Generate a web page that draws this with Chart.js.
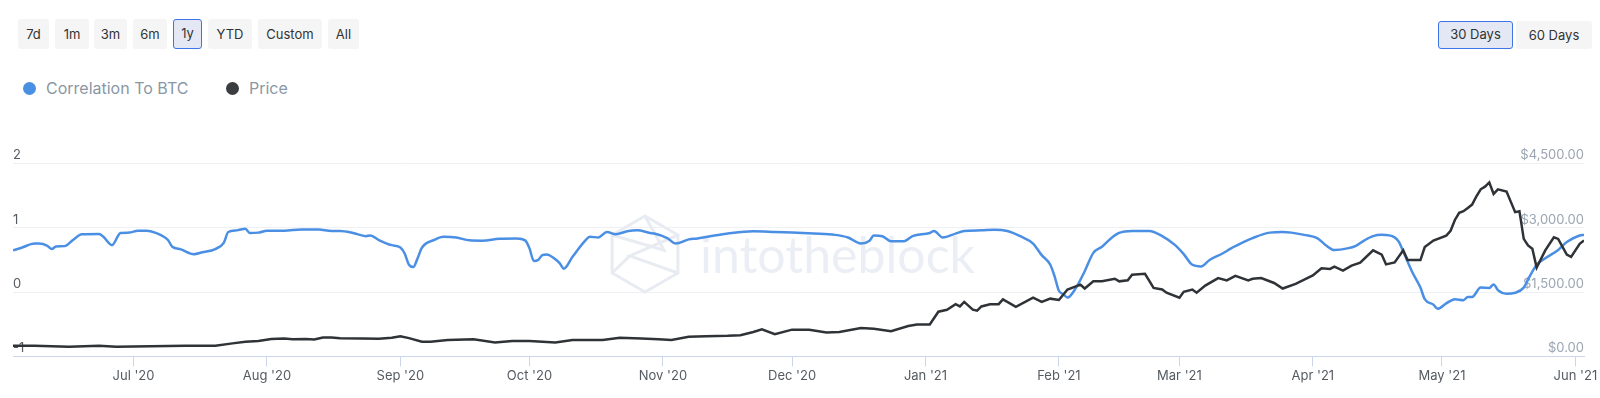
<!DOCTYPE html>
<html><head><meta charset="utf-8">
<script src="https://cdn.jsdelivr.net/npm/chart.js@4"></script>
<style>
html,body{margin:0;padding:0;background:#fff}
body{width:1600px;height:398px;overflow:hidden;position:relative;font-family:Inter,"Noto Sans",sans-serif}
.btn{position:absolute;top:19px;height:30px;line-height:30px;background:#f5f5f6;border-radius:3px;font-size:13px;color:#333;text-align:center;box-sizing:border-box}
.sel{background:#e3e8f4;border:1.5px solid #3d75e8;line-height:27px}
.leg{position:absolute;top:77px;font-size:16px;color:#8a97a5;line-height:22px}
.dot{position:absolute;width:13px;height:13px;border-radius:50%}
#wrap{position:absolute;left:0;top:140px;width:1600px;height:258px}
</style></head><body>
<div class="btn" style="left:18px;width:31px">7d</div>
<div class="btn" style="left:55px;width:34px">1m</div>
<div class="btn" style="left:94px;width:33px">3m</div>
<div class="btn" style="left:133px;width:34px">6m</div>
<div class="btn sel" style="left:173px;width:29px">1y</div>
<div class="btn" style="left:208px;width:44px">YTD</div>
<div class="btn" style="left:258px;width:64px">Custom</div>
<div class="btn" style="left:328px;width:31px">All</div>
<div class="btn sel" style="left:1438px;top:21px;height:28px;line-height:25px;width:75px">30 Days</div>
<div class="btn" style="left:1516px;top:21px;height:28px;line-height:28px;width:76px">60 Days</div>
<div class="dot" style="left:22.5px;top:81.5px;background:#4a90e2"></div>
<div class="leg" style="left:46px">Correlation To BTC</div>
<div class="dot" style="left:225.5px;top:81.5px;background:#3a3d40"></div>
<div class="leg" style="left:249px">Price</div>
<div id="wrap"><canvas id="c"></canvas></div>
<script>
const monthDays = [28,59,90,120,151,181,212,243,271,302,332,363];
const monthLabels = ["Jul '20","Aug '20","Sep '20","Oct '20","Nov '20","Dec '20","Jan '21","Feb '21","Mar '21","Apr '21","May '21","Jun '21"];

const corrDays = [0,2,5,6,8,9,10,12,14,16,20,21,23,25,27,29,31,33,36,37,39,42,44,47,49,50,52,54,55,57,59,63,67,71,74,76,79,82,83,85,88,90,91,92,93,94,95,98,100,103,106,109,113,117,119,120,121,122,123,124,126,127,128,130,133,134,136,138,140,143,145,148,149,152,154,157,159,163,167,172,177,181,186,191,194,197,199,200,202,204,207,209,213,214,216,219,221,225,228,231,234,237,239,241,242,243,244,245,247,249,251,253,255,257,260,264,267,270,272,274,276,278,281,283,286,288,292,295,297,300,303,305,307,310,312,314,316,318,321,322,323,325,327,328,330,331,333,335,337,338,339,341,343,344,345,347,349,351,352,354,356,359,361,364,365];
const corrValues = [0.65,0.69,0.755,0.755,0.72,0.67,0.71,0.715,0.815,0.90,0.905,0.86,0.73,0.92,0.925,0.955,0.955,0.925,0.81,0.705,0.665,0.59,0.62,0.67,0.77,0.935,0.96,0.985,0.92,0.925,0.955,0.955,0.975,0.975,0.95,0.95,0.92,0.87,0.88,0.81,0.73,0.695,0.60,0.425,0.39,0.525,0.69,0.815,0.86,0.85,0.805,0.80,0.83,0.835,0.805,0.68,0.485,0.50,0.575,0.585,0.51,0.45,0.365,0.55,0.805,0.86,0.85,0.935,0.90,0.95,0.96,0.92,0.91,0.84,0.755,0.82,0.835,0.88,0.92,0.945,0.935,0.925,0.91,0.89,0.85,0.755,0.80,0.88,0.87,0.79,0.79,0.87,0.92,0.95,0.85,0.91,0.95,0.96,0.97,0.95,0.87,0.755,0.575,0.425,0.245,0.02,-0.03,-0.085,0.07,0.325,0.61,0.705,0.83,0.92,0.95,0.95,0.87,0.73,0.59,0.425,0.40,0.50,0.60,0.68,0.78,0.84,0.925,0.935,0.925,0.89,0.84,0.73,0.655,0.68,0.72,0.805,0.87,0.89,0.85,0.78,0.63,0.325,0.07,-0.11,-0.195,-0.26,-0.175,-0.11,-0.125,-0.075,-0.075,0.07,0.065,0.12,0.03,-0.025,-0.01,0.07,0.195,0.425,0.525,0.655,0.78,0.88,0.89];

const priceDays = [0,5,13,20,24,32,40,47,51,54,57,60,63,65,68,70,72,74,76,81,85,88,90,92,95,97,101,107,112,116,120,126,130,137,141,146,150,153,157,161,166,169,172,174,177,181,185,189,192,197,200,204,208,210,213,215,217,219,220,221,223,224,225,227,229,230,233,237,239,241,243,245,248,249,251,253,256,257,259,260,263,265,267,268,271,272,274,275,277,280,282,284,287,288,290,293,295,298,300,302,304,306,307,309,311,313,316,318,319,321,323,324,327,328,330,333,334,335,336,337,338,339,340,341,342,343,344,345,347,349,350,351,352,353,354,356,358,359,361,362,364,365];
const priceValues = [251,251,228,251,228,235,251,251,304,343,358,404,419,400,404,395,442,442,426,419,412,434,472,426,343,343,381,400,327,358,358,327,381,381,434,419,400,381,457,472,480,495,571,632,518,624,624,556,571,662,647,586,708,746,746,1043,1089,1218,1165,1271,1089,1066,1165,1218,1218,1332,1157,1370,1271,1347,1317,1560,1675,1583,1751,1751,1812,1751,1774,1903,1926,1599,1560,1485,1370,1507,1560,1485,1652,1827,1774,1880,1774,1812,1827,1713,1583,1690,1789,1888,2056,2041,2094,2003,2117,2186,2474,2375,2147,2193,2474,2246,2246,2550,2703,2817,2931,3183,3350,3388,3464,3541,3731,3898,3959,4058,3792,3898,3845,3365,3388,2741,2589,2512,2072,2474,2779,2741,2375,2322,2627,2703];

const corrTicks = [-1,0,1,2];
const priceTicks = [0,1500,3000,4500];

const watermark = {
  id:'watermark',
  beforeDatasetsDraw(chart){
    const ctx = chart.ctx;
    ctx.save();
    ctx.strokeStyle = '#e8ecf2';
    ctx.lineWidth = 3;
    const cx = 645, cy = 114, r = 38;
    const pts = [];
    for (let i=0;i<6;i++){const a=Math.PI/6+i*Math.PI/3;pts.push([cx+r*Math.cos(a),cy+r*Math.sin(a)]);}
    ctx.beginPath();
    pts.forEach((p,i)=>i?ctx.lineTo(p[0],p[1]):ctx.moveTo(p[0],p[1]));
    ctx.closePath();ctx.stroke();
    ctx.beginPath();
    ctx.moveTo(pts[3][0],pts[3][1]);ctx.lineTo(cx+r*0.5,cy-r*0.1);ctx.lineTo(pts[4][0],pts[4][1]);
    ctx.moveTo(pts[5][0],pts[5][1]);ctx.lineTo(cx-r*0.4,cy+r*0.05);ctx.lineTo(pts[0][0],pts[0][1]);
    ctx.moveTo(cx-r*0.4,cy+r*0.05);ctx.lineTo(pts[2][0],pts[2][1]);
    ctx.stroke();
    ctx.fillStyle = '#ebeff5';
    ctx.font = '400 50px Lato';
    ctx.textBaseline = 'alphabetic';
    ctx.fillText('intotheblock', 700, 133);
    ctx.restore();
  }
};

new Chart(document.getElementById('c'), {
  type:'line',
  data:{datasets:[
    {label:'Price', data:priceDays.map((d,i)=>({x:d,y:priceValues[i]})), yAxisID:'y1', borderColor:'#2f3337', borderWidth:2.5, pointRadius:0, tension:0, order:0},
    {label:'Correlation To BTC', data:corrDays.map((d,i)=>({x:d,y:corrValues[i]})), yAxisID:'y', borderColor:'#4a8fe3', borderWidth:2.5, pointRadius:0, cubicInterpolationMode:'monotone', order:1}
  ]},
  options:{
    responsive:true, maintainAspectRatio:false, animation:false,
    layout:{padding:{left:13,right:16,top:23.5,bottom:12}},
    plugins:{legend:{display:false},tooltip:{enabled:false}},
    scales:{
      x:{type:'linear', min:0, max:365,
        afterBuildTicks:(ax)=>{ax.ticks = monthDays.map(v=>({value:v}));},
        ticks:{autoSkip:false,maxRotation:0,padding:2,color:'#555b61',font:{family:'Inter',size:13},callback:(v)=>monthLabels[monthDays.indexOf(v)]},
        grid:{drawOnChartArea:false,drawTicks:true,tickLength:10,color:'#ccd6eb'},
        border:{display:true,color:'#ccd6eb',width:1}
      },
      y:{position:'left', min:-1, max:2,
        afterBuildTicks:(ax)=>{ax.ticks = corrTicks.map(v=>({value:v}));},
        ticks:{mirror:true,padding:0,labelOffset:-8,color:'#555b61',font:{family:'Inter',size:13}},
        grid:{color:'#eef0f4',drawTicks:false},
        border:{display:false}
      },
      y1:{position:'right', min:0, max:4500,
        afterBuildTicks:(ax)=>{ax.ticks = priceTicks.map(v=>({value:v}));},
        ticks:{mirror:true,padding:0,labelOffset:-8,color:'#9aa5b1',font:{family:'Inter',size:13},
          callback:(v)=>'$'+v.toLocaleString('en-US',{minimumFractionDigits:2,maximumFractionDigits:2})},
        grid:{display:false,drawTicks:false},
        border:{display:false}
      }
    }
  },
  plugins:[watermark]
});
</script>
</body></html>
